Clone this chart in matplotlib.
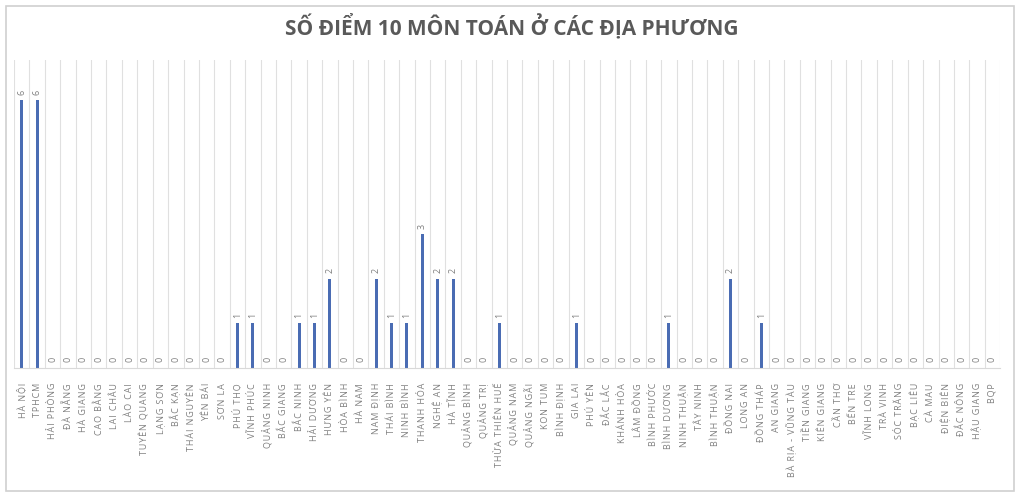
import numpy as np
import matplotlib
matplotlib.use('Agg')
import matplotlib.pyplot as plt
from matplotlib.patches import Rectangle

# Provinces and number of perfect 10 scores in math
provinces = ["HÀ NỘI", "TPHCM", "HẢI PHÒNG", "ĐÀ NẴNG", "HÀ GIANG", "CAO BẰNG",
             "LAI CHÂU", "LÀO CAI", "TUYÊN QUANG", "LẠNG SƠN", "BẮC KẠN",
             "THÁI NGUYÊN", "YÊN BÁI", "SƠN LA", "PHÚ THỌ", "VĨNH PHÚC",
             "QUẢNG NINH", "BẮC GIANG", "BẮC NINH", "HẢI DƯƠNG", "HƯNG YÊN",
             "HÒA BÌNH", "HÀ NAM", "NAM ĐỊNH", "THÁI BÌNH", "NINH BÌNH",
             "THANH HÓA", "NGHỆ AN", "HÀ TĨNH", "QUẢNG BÌNH", "QUẢNG TRỊ",
             "THỪA THIÊN HUẾ", "QUẢNG NAM", "QUẢNG NGÃI", "KON TUM", "BÌNH ĐỊNH",
             "GIA LAI", "PHÚ YÊN", "ĐẮC LẮC", "KHÁNH HÒA", "LÂM ĐỒNG",
             "BÌNH PHƯỚC", "BÌNH DƯƠNG", "NINH THUẬN", "TÂY NINH", "BÌNH THUẬN",
             "ĐỒNG NAI", "LONG AN", "ĐỒNG THÁP", "AN GIANG", "BÀ RỊA - VŨNG TÀU",
             "TIỀN GIANG", "KIÊN GIANG", "CẦN THƠ", "BẾN TRE", "VĨNH LONG",
             "TRÀ VINH", "SÓC TRĂNG", "BẠC LIÊU", "CÀ MAU", "ĐIỆN BIÊN",
             "ĐẮC NÔNG", "HẬU GIANG", "BQP"]
scores = [6, 6, 0, 0, 0, 0, 0, 0, 0, 0, 0, 0, 0, 0, 1, 1, 0, 0, 1, 1, 2, 0, 0,
          2, 1, 1, 3, 2, 2, 0, 0, 1, 0, 0, 0, 0, 1, 0, 0, 0, 0, 0, 1, 0, 0, 0,
          2, 0, 1, 0, 0, 0, 0, 0, 0, 0, 0, 0, 0, 0, 0, 0, 0, 0]

plt.rcParams['font.family'] = ['Open Sans', 'DejaVu Sans']

def spaced(s):
    # mimic Excel's letter spacing on the axis labels
    return '\u200a'.join(s)

fig = plt.figure(figsize=(10.24, 4.97), dpi=100)
fig.patches.append(Rectangle((0.006, 0.012), 0.984, 0.976, transform=fig.transFigure,
                             fill=False, edgecolor='#d0d0d0', linewidth=1.2))
ax = fig.add_axes([0.0137, 0.26, 0.963, 0.619])

x = np.arange(len(provinces))
bars = ax.bar(x, scores, width=0.2, color='#4a6cb3')

for xi, v in zip(x, scores):
    ax.text(xi, v + 0.12, str(v), rotation=90, ha='center', va='bottom',
            fontsize=6.5, color='#7f7f7f')

# vertical separators between categories
for b in np.arange(len(provinces) + 1) - 0.5:
    ax.axvline(b, color='#e0e0e0', linewidth=0.8, zorder=0)

ax.set_xlim(-0.5, len(provinces) - 0.5)
ax.set_ylim(0, 6.9)
ax.set_xticks(x)
ax.set_xticklabels([spaced(p) for p in provinces], rotation=90, fontsize=6.5,
                   color='#808080')
ax.tick_params(axis='x', length=0, pad=11)
ax.set_yticks([])
for s in ['top', 'left', 'right']:
    ax.spines[s].set_visible(False)
ax.spines['bottom'].set_color('#d9d9d9')

fig.text(0.5, 0.945, "SỐ ĐIỂM 10 MÔN TOÁN Ở CÁC ĐỊA PHƯƠNG", ha='center', va='center',
         fontsize=15, fontweight='bold', color='#595959')

fig.savefig('out.png', dpi=100)
